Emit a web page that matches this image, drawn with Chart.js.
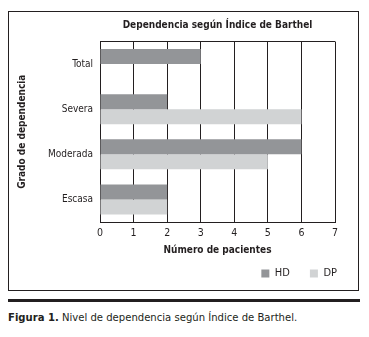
<!DOCTYPE html>
<html lang="es">
<head>
<meta charset="UTF-8">
<title>Dependencia según Índice de Barthel</title>
<script src="https://cdn.jsdelivr.net/npm/chart.js"></script>
<style>
  body { margin: 0; background: #fff; font-family: 'Liberation Sans Narrow', 'DejaVu Sans Condensed', sans-serif; color: #231f20; }
  #box { position: absolute; left: 8px; top: 11px; width: 351px; height: 280px; box-sizing: border-box; border: 1px solid #231f20; }
  #chart { position: absolute; left: 9px; top: 12px; }
  #rule { position: absolute; left: 8px; top: 299px; width: 352px; height: 3px; background: #231f20; }
  #caption { position: absolute; left: 8px; top: 311px; font-size: 11.2px; white-space: nowrap; }
</style>
</head>
<body>
<div id="box"></div>
<canvas id="chart" width="348" height="277"></canvas>
<div id="rule"></div>
<div id="caption"><b>Figura 1.</b> Nivel de dependencia según Índice de Barthel.</div>
<script>
    // datos
    const categories = [ 'Total', 'Severa', 'Moderada', 'Escasa' ];
    const hdValues = [ 3, 2, 6, 2 ];
    const dpValues = [ 0, 6, 5, 2 ];
    const xTicks = [ 0, 1, 2, 3, 4, 5, 6, 7 ];

    const ink = '#231f20';
    const fontFamily = "'Liberation Sans Narrow', 'DejaVu Sans Condensed', sans-serif";

    const ctx = document.getElementById( 'chart' ).getContext( '2d' );
    new Chart( ctx, {
        type: 'bar',
        data: {
            labels: categories,
            datasets: [
                { label: 'HD', data: hdValues, backgroundColor: '#939598', barPercentage: 1, categoryPercentage: 0.667 },
                { label: 'DP', data: dpValues, backgroundColor: '#d1d3d4', barPercentage: 1, categoryPercentage: 0.667 }
            ]
        },
        options: {
            indexAxis: 'y',
            responsive: false,
            animation: false,
            layout: { padding: 0 },
            plugins: {
                title: {
                    display: true,
                    fullSize: false,
                    text: 'Dependencia según Índice de Barthel',
                    color: ink,
                    font: { family: fontFamily, size: 10, weight: 'bold' },
                    padding: { top: 7, bottom: 10.5 }
                },
                legend: {
                    position: 'bottom',
                    align: 'end',
                    maxHeight: 41,
                    labels: {
                        color: ink,
                        boxWidth: 8,
                        boxHeight: 8,
                        padding: 20,
                        font: { family: fontFamily, size: 11 }
                    }
                },
                tooltip: { enabled: false }
            },
            scales: {
                x: {
                    min: 0,
                    max: 7,
                    afterBuildTicks: scale => { scale.ticks = xTicks.map( v => ( { value: v } ) ); },
                    afterFit: scale => { scale.height = 26; },
                    grid: { color: ink, lineWidth: 1, drawTicks: false },
                    border: { display: true, color: ink },
                    ticks: { color: ink, padding: 5, font: { family: fontFamily, size: 10.5 } },
                    title: {
                        display: true,
                        text: 'Número de pacientes',
                        color: ink,
                        font: { family: fontFamily, size: 10, weight: 'bold' },
                        padding: { top: 4, bottom: -8 }
                    }
                },
                y: {
                    afterFit: scale => { scale.width = 91; },
                    grid: { color: c => c.index === 0 ? ink : 'rgba(0,0,0,0)', lineWidth: 1, drawTicks: false },
                    border: { display: true, color: ink },
                    ticks: { color: ink, padding: 7, font: { family: fontFamily, size: 10 } },
                    title: {
                        display: true,
                        text: 'Grado de dependencia',
                        color: ink,
                        font: { family: fontFamily, size: 10, weight: 'bold' },
                        padding: { top: 7, bottom: 4 }
                    }
                },
                y2: {
                    type: 'linear',
                    position: 'right',
                    afterFit: scale => { scale.width = 22; },
                    grid: { display: false },
                    border: { display: false },
                    ticks: { display: false }
                }
            }
        }
    } );
</script>
</body>
</html>
